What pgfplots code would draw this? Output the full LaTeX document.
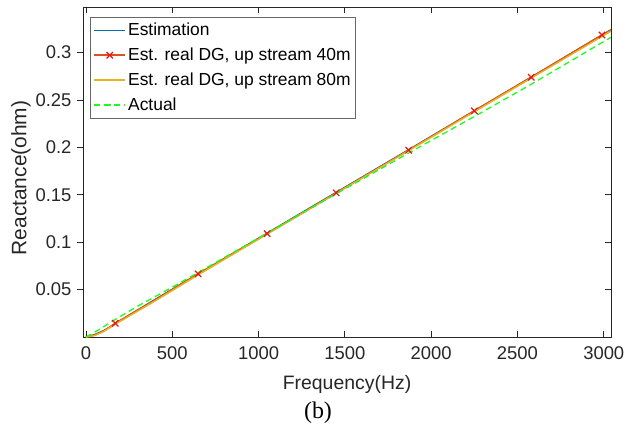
\documentclass[border=0pt]{standalone}
\usepackage{fontspec}
\setmainfont{Liberation Sans}
\newfontfamily\timesfont{Liberation Serif}
\usepackage{pgfplots}
\pgfplotsset{compat=1.18}
\definecolor{mblue}{rgb}{0,0.447,0.741}
\definecolor{mred}{rgb}{0.85,0.325,0.098}
\definecolor{mmark}{rgb}{0.88,0.1,0.1}
\definecolor{myellow}{rgb}{0.929,0.694,0.125}
\definecolor{mgreen}{rgb}{0.1,1,0.1}
\definecolor{axgray}{rgb}{0.15,0.15,0.15}

\pgfplotstableread{
f y
0 0
50 0.0025
100 0.0065
150 0.0115
200 0.0175
300 0.0285
400 0.0395
650 0.0665
1050 0.1095
1450 0.1525
1870 0.1975
2250 0.2385
2580 0.2740
2990 0.3185
3042 0.3240
}\estimation

\pgfplotstableread{
f y
0 0
50 0.002
100 0.006
170 0.0145
250 0.023
400 0.039
650 0.0665
1050 0.109
1450 0.152
1870 0.197
2250 0.2385
2580 0.274
2990 0.3185
3042 0.3235
}\realforty

\pgfplotstableread{
f y
170 0.0145
650 0.0665
1050 0.109
1450 0.152
1870 0.197
2250 0.2385
2580 0.274
2990 0.3185
}\realfortymarks

\pgfplotstableread{
f y
0 0
50 0.0015
100 0.0055
170 0.0135
250 0.022
400 0.038
650 0.0655
1050 0.1085
1450 0.1515
1870 0.1965
2250 0.2375
2580 0.273
2990 0.3170
3042 0.3225
}\realeighty

\pgfplotstableread{
f y
0 0
50 0.005
100 0.0105
170 0.0185
300 0.0325
500 0.0525
650 0.068
1050 0.1095
1450 0.151
1870 0.194
2250 0.2325
2580 0.2665
2990 0.3105
3042 0.316
}\actual

\begin{document}
\begin{tikzpicture}
\useasboundingbox (-83bp,-98bp) rectangle (553bp,337bp);
\begin{axis}[
  at={(0,0)}, anchor=south west,
  scale only axis, width=528bp, height=330bp,
  xmin=-17, xmax=3042, ymin=0, ymax=0.348,
  xtick={0,500,1000,1500,2000,2500,3000},
  xticklabels={0,500,1000,1500,2000,2500,3000},
  ytick={0.05,0.1,0.15,0.2,0.25,0.3},
  yticklabels={0.05,0.1,0.15,0.2,0.25,0.3},
  xtick pos=both, xtick align=inside,
  ytick pos=left, ytick align=outside,
  major tick length=6bp,
  tick style={axgray, line width=0.8bp},
  axis line style={axgray, line width=0.8bp},
  ticklabel style={font=\fontsize{18.5}{22}\selectfont, text=axgray},
  xticklabel style={yshift=-6bp},
  yticklabel style={xshift=-2bp},
  xlabel={Frequency(Hz)},
  ylabel={Reactance(ohm)},
  label style={font=\fontsize{19.5}{23}\selectfont, text=axgray},
  xlabel style={at={(rel axis cs:0.5,0)}, anchor=center, yshift=-47bp},
  ylabel style={at={(rel axis cs:0,0.5)}, anchor=center, yshift=62bp, xshift=-6bp, font=\fontsize{21}{25}\selectfont},
  legend style={at={(rel axis cs:0,1)}, anchor=north west, xshift=7bp, yshift=-10bp,
    draw=black!60, line width=0.7bp, fill=white,
    font=\fontsize{17.5}{21}\selectfont, row sep=6.8bp,
    inner xsep=3bp, inner ysep=4bp, text=black},
  legend cell align=left,
  legend image code/.code={\draw[mark repeat=2,mark phase=2,#1] plot coordinates {(0bp,0bp)(15.5bp,0bp)(31bp,0bp)};},
]
\addplot[mblue, line width=1.5bp, forget plot] table[x=f,y=y]{\estimation};
\addplot[mred, line width=1.5bp, forget plot] table[x=f,y=y]{\realforty};
\addplot[only marks, mark=x, mark size=4.5bp, mark options={mmark, line width=1.2bp}, forget plot] table[x=f,y=y]{\realfortymarks};
\addplot[myellow, line width=1.5bp, forget plot] table[x=f,y=y]{\realeighty};
\addplot[mgreen, line width=1.3bp, dash pattern=on 6bp off 4bp, forget plot] table[x=f,y=y]{\actual};
\addlegendimage{mblue, line width=1.8bp}
\addlegendentry{Estimation}
\addlegendimage{mred, line width=1.8bp, mark=x, mark size=4.5bp, mark options={mmark, line width=1.2bp, solid}}
\addlegendentry{Est. real DG, up stream 40m}
\addlegendimage{myellow, line width=1.8bp}
\addlegendentry{Est. real DG, up stream 80m}
\addlegendimage{mgreen, line width=1.3bp, dash pattern=on 6bp off 4bp}
\addlegendentry{Actual}
\end{axis}
\begin{axis}[
  at={(0,0)}, anchor=south west,
  scale only axis, width=528bp, height=330bp,
  xmin=-17, xmax=3042, ymin=0, ymax=0.348,
  axis x line=none, axis y line*=right,
  ytick={0.05,0.1,0.15,0.2,0.25,0.3},
  yticklabels={},
  ytick align=inside, major tick length=6bp,
  tick style={axgray, line width=0.8bp},
  axis line style={axgray, line width=0.8bp, -},
]
\addplot[draw=none, forget plot] coordinates {(0,0)};
\end{axis}
\node[font=\timesfont\fontsize{24}{28}\selectfont] at (235bp,-76bp) {(b)};
\end{tikzpicture}
\end{document}
